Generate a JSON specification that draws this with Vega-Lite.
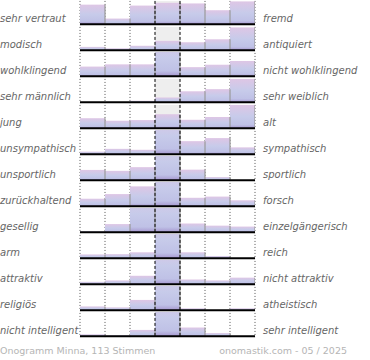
{
  "$schema": "https://vega.github.io/schema/vega-lite/v6.json",
  "padding": 0,
  "background": "white",
  "bounds": "flush",
  "config": {"view": {"stroke": null}, "font": "DejaVu Sans"},
  "data": {"values": [
    {"r":1,"L":"sehr vertraut","R":"fremd","c":1,"v":21},{"r":1,"c":2,"v":6},{"r":1,"c":3,"v":20},{"r":1,"c":4,"v":23},{"r":1,"c":5,"v":22.3},{"r":1,"c":6,"v":15},{"r":1,"c":7,"v":24.5},
    {"r":2,"L":"modisch","R":"antiquiert","c":1,"v":3.5},{"r":2,"c":2,"v":2},{"r":2,"c":3,"v":4.7},{"r":2,"c":4,"v":10},{"r":2,"c":5,"v":8.5},{"r":2,"c":6,"v":11.7},{"r":2,"c":7,"v":24.5},
    {"r":3,"L":"wohlklingend","R":"nicht wohlklingend","c":1,"v":10.3},{"r":3,"c":2,"v":12.7},{"r":3,"c":3,"v":12.7},{"r":3,"c":4,"v":40},{"r":3,"c":5,"v":9.7},{"r":3,"c":6,"v":12.3},{"r":3,"c":7,"v":16.3},
    {"r":4,"L":"sehr männlich","R":"sehr weiblich","c":1,"v":0},{"r":4,"c":2,"v":0},{"r":4,"c":3,"v":1.5},{"r":4,"c":4,"v":5},{"r":4,"c":5,"v":11.7},{"r":4,"c":6,"v":14},{"r":4,"c":7,"v":25},
    {"r":5,"L":"\u00a0jung","R":"alt","c":1,"v":10.7},{"r":5,"c":2,"v":8},{"r":5,"c":3,"v":8.7},{"r":5,"c":4,"v":15},{"r":5,"c":5,"v":9},{"r":5,"c":6,"v":12},{"r":5,"c":7,"v":25},
    {"r":6,"L":"unsympathisch","R":"sympathisch","c":1,"v":2.7},{"r":6,"c":2,"v":5.7},{"r":6,"c":3,"v":4.7},{"r":6,"c":4,"v":40},{"r":6,"c":5,"v":14},{"r":6,"c":6,"v":17.3},{"r":6,"c":7,"v":7.3},
    {"r":7,"L":"unsportlich","R":"sportlich","c":1,"v":11},{"r":7,"c":2,"v":10},{"r":7,"c":3,"v":14},{"r":7,"c":4,"v":40},{"r":7,"c":5,"v":11.3},{"r":7,"c":6,"v":3.3},{"r":7,"c":7,"v":0},
    {"r":8,"L":"zurückhaltend","R":"forsch","c":1,"v":8},{"r":8,"c":2,"v":13},{"r":8,"c":3,"v":21.3},{"r":8,"c":4,"v":40},{"r":8,"c":5,"v":9},{"r":8,"c":6,"v":10.3},{"r":8,"c":7,"v":6.3},
    {"r":9,"L":"gesellig","R":"einzelgängerisch","c":1,"v":1},{"r":9,"c":2,"v":8.7},{"r":9,"c":3,"v":40},{"r":9,"c":4,"v":40},{"r":9,"c":5,"v":9.3},{"r":9,"c":6,"v":7},{"r":9,"c":7,"v":6},
    {"r":10,"L":"arm","R":"reich","c":1,"v":4},{"r":10,"c":2,"v":4.3},{"r":10,"c":3,"v":6.3},{"r":10,"c":4,"v":40},{"r":10,"c":5,"v":6.3},{"r":10,"c":6,"v":2.3},{"r":10,"c":7,"v":0},
    {"r":11,"L":"attraktiv","R":"nicht attraktiv","c":1,"v":2.5},{"r":11,"c":2,"v":4},{"r":11,"c":3,"v":9},{"r":11,"c":4,"v":40},{"r":11,"c":5,"v":5},{"r":11,"c":6,"v":4},{"r":11,"c":7,"v":7},
    {"r":12,"L":"religiös","R":"atheistisch","c":1,"v":4},{"r":12,"c":2,"v":3},{"r":12,"c":3,"v":11},{"r":12,"c":4,"v":40},{"r":12,"c":5,"v":2},{"r":12,"c":6,"v":0},{"r":12,"c":7,"v":2},
    {"r":13,"L":"nicht intelligent","R":"sehr intelligent","c":1,"v":2},{"r":13,"c":2,"v":1},{"r":13,"c":3,"v":6.7},{"r":13,"c":4,"v":40},{"r":13,"c":5,"v":9.3},{"r":13,"c":6,"v":3.3},{"r":13,"c":7,"v":0}
  ]},
  "facet": {"row": {"field": "r", "type": "ordinal", "title": null, "header": {"labels": false}}},
  "spacing": {"row": 0},
  "spec": {
    "width": 175,
    "height": 26,
    "layer": [
      {
        "transform": [{"filter": "datum.c == 4"}],
        "mark": {"type": "rect", "color": "#eeeeee"},
        "encoding": {
          "x": {"field": "c", "type": "ordinal", "axis": null, "scale": {"domain": [1,2,3,4,5,6,7], "paddingInner": 0, "paddingOuter": 0}},
          "y": {"datum": 25, "type": "quantitative", "scale": {"domain": [-1, 25]}, "axis": null},
          "y2": {"datum": 0}
        }
      },
      {
        "transform": [{"filter": "datum.c != 4 && datum.c != 5"}],
        "mark": {"type": "rule", "color": "#555555", "strokeWidth": 1, "strokeDash": [1, 2]},
        "encoding": {
          "x": {"field": "c", "type": "ordinal", "bandPosition": 0},
          "y": {"datum": 25, "type": "quantitative"},
          "y2": {"datum": -1}
        }
      },
      {
        "transform": [{"filter": "datum.c == 7"}],
        "mark": {"type": "rule", "color": "#555555", "strokeWidth": 1, "strokeDash": [1, 2]},
        "encoding": {
          "x": {"field": "c", "type": "ordinal", "bandPosition": 1},
          "y": {"datum": 25, "type": "quantitative"},
          "y2": {"datum": -1}
        }
      },
      {
        "mark": {
          "type": "bar", "clip": true,
          "color": {"gradient": "linear", "x1": 0, "y1": 0, "x2": 0, "y2": 1,
            "stops": [
              {"offset": 0, "color": "#dec6e5"},
              {"offset": 0.5, "color": "#c7cbea"},
              {"offset": 0.86, "color": "#bfc1e6"},
              {"offset": 1, "color": "#a697cf"}
            ]}
        },
        "encoding": {
          "x": {"field": "c", "type": "ordinal"},
          "y": {"field": "v", "type": "quantitative"}
        }
      },
      {
        "mark": {"type": "rule", "clip": true, "color": "#999999", "strokeWidth": 1.2},
        "encoding": {
          "x": {"field": "c", "type": "ordinal", "bandPosition": 1},
          "y": {"field": "v", "type": "quantitative"},
          "y2": {"datum": 0}
        }
      },
      {
        "transform": [{"filter": "datum.c == 4 || datum.c == 5"}],
        "mark": {"type": "rule", "color": "#000000", "strokeWidth": 1, "strokeDash": [3, 2]},
        "encoding": {
          "x": {"field": "c", "type": "ordinal", "bandPosition": 0},
          "y": {"datum": 25, "type": "quantitative"},
          "y2": {"datum": -1}
        }
      },
      {
        "transform": [{"filter": "datum.c == 1"}],
        "mark": {"type": "rule", "color": "#000000", "strokeWidth": 2},
        "encoding": {
          "y": {"datum": 0, "type": "quantitative"}
        }
      },
      {
        "transform": [{"filter": "datum.c == 1"}],
        "mark": {"type": "text", "align": "left", "baseline": "middle", "fontSize": 10, "fontStyle": "italic", "color": "#666666", "dx": -80},
        "encoding": {
          "x": {"field": "c", "type": "ordinal", "bandPosition": 0},
          "y": {"datum": 6, "type": "quantitative"},
          "text": {"field": "L"}
        }
      },
      {
        "transform": [{"filter": "datum.c == 1"}],
        "mark": {"type": "text", "align": "left", "baseline": "middle", "fontSize": 10, "fontStyle": "italic", "color": "#666666", "dx": 183},
        "encoding": {
          "x": {"field": "c", "type": "ordinal", "bandPosition": 0},
          "y": {"datum": 6, "type": "quantitative"},
          "text": {"field": "R"}
        }
      },
      {
        "transform": [{"filter": "datum.r == 13 && datum.c == 1"}],
        "mark": {"type": "text", "text": "Onogramm Minna, 113 Stimmen", "align": "left", "baseline": "middle", "fontSize": 9.5, "color": "#b5b5b5", "dx": -80, "dy": 15},
        "encoding": {
          "x": {"field": "c", "type": "ordinal", "bandPosition": 0},
          "y": {"datum": 0, "type": "quantitative"}
        }
      },
      {
        "transform": [{"filter": "datum.r == 13 && datum.c == 1"}],
        "mark": {"type": "text", "text": "onomastik.com - 05 / 2025", "align": "right", "baseline": "middle", "fontSize": 9.5, "color": "#b5b5b5", "dx": 267, "dy": 15},
        "encoding": {
          "x": {"field": "c", "type": "ordinal", "bandPosition": 0},
          "y": {"datum": 0, "type": "quantitative"}
        }
      }
    ]
  }
}
